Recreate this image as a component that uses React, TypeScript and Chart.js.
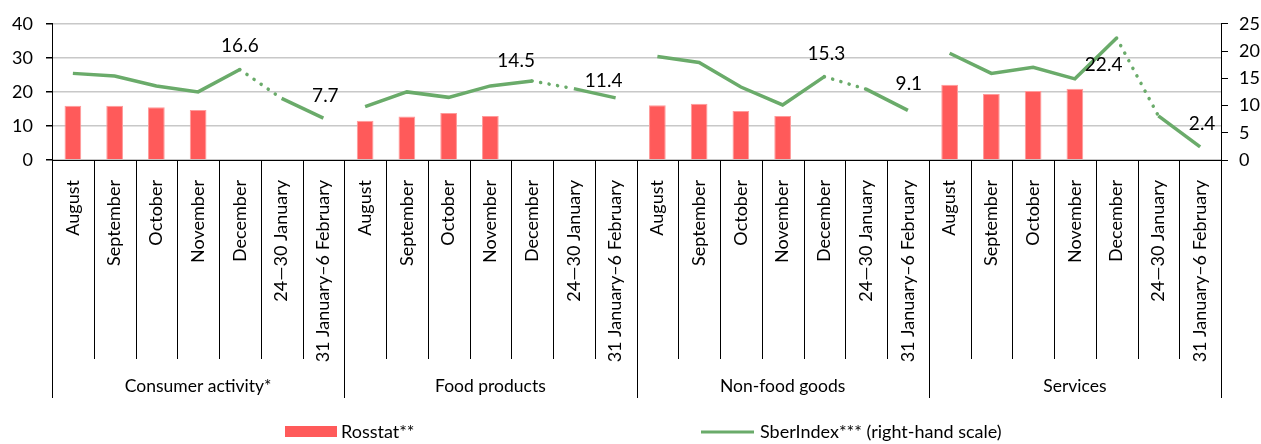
import React, { useEffect, useRef } from 'react';
import { Chart, registerables } from 'chart.js';

Chart.register(...registerables);

const groups = ['Consumer activity*', 'Food products', 'Non-food goods', 'Services'];
const periods = ['August', 'September', 'October', 'November', 'December', '24—30 January', '31 January–6 February'];

const rosstatConsumer = [15.9, 15.9, 15.5, 14.7, null, null, null];
const rosstatFood = [11.5, 12.8, 13.8, 12.9, null, null, null];
const rosstatNonFood = [16.1, 16.5, 14.4, 12.9, null, null, null];
const rosstatServices = [22.1, 19.4, 20.3, 20.9, null, null, null];

const sberConsumer = [15.9, 15.4, 13.6, 12.5, 16.6, 11.3, 7.7];
const sberFood = [9.8, 12.5, 11.5, 13.6, 14.5, 13.1, 11.4];
const sberNonFood = [19.0, 17.9, 13.4, 10.1, 15.3, 13.0, 9.1];
const sberServices = [19.6, 15.9, 17.0, 14.9, 22.4, 8.1, 2.4];

const leftTicks = [0, 10, 20, 30, 40];
const rightTicks = [0, 5, 10, 15, 20, 25];

// indices (within group) whose values are labelled
const labelledPeriods = [4, 6];
// label offsets from point (style only), per group, per labelled period
const labelOffsets = [
  [[0, -24], [2, -22]],
  [[-16, -20], [-12, -17]],
  [[2, -23], [1, -27]],
  [[-13, 27], [2, -23]],
];

const BAR = '#ff5a5a';
const LINE = '#6aab6a';
const FONT = 'Lato';

const labels = groups.flatMap(() => periods);
const rosstat = [...rosstatConsumer, ...rosstatFood, ...rosstatNonFood, ...rosstatServices];
const sber = [...sberConsumer, ...sberFood, ...sberNonFood, ...sberServices];

const decorPlugin = {
  id: 'decor',
  afterDraw(chart: any) {
    const ctx = chart.ctx;
    const area = chart.chartArea;
    const n = labels.length;
    const w = (area.right - area.left) / n;
    ctx.save();
    ctx.strokeStyle = '#000';
    ctx.lineWidth = 1;
    for (let i = 0; i <= n; i++) {
      const x = Math.round(area.left + i * w) + 0.5;
      const isGroup = i % periods.length === 0;
      ctx.beginPath();
      ctx.moveTo(x, area.bottom);
      ctx.lineTo(x, isGroup ? 398 : 359);
      ctx.stroke();
    }
    ctx.fillStyle = '#000';
    ctx.font = `17.5px ${FONT}`;
    ctx.textAlign = 'center';
    ctx.textBaseline = 'middle';
    groups.forEach((g, gi) => {
      const cx = area.left + (gi * periods.length + periods.length / 2) * w;
      ctx.fillText(g, cx, 386);
    });

    // data labels
    const meta = chart.getDatasetMeta(1);
    ctx.font = `19px ${FONT}`;
    groups.forEach((g, gi) => {
      labelledPeriods.forEach((p, li) => {
        const idx = gi * periods.length + p;
        const el = meta.data[idx];
        const v = sber[idx];
        if (!el || v == null) return;
        const [dx, dy] = labelOffsets[gi][li];
        ctx.fillText(v.toFixed(1), el.x + dx, el.y + dy);
      });
    });

    // legend
    ctx.textAlign = 'left';
    ctx.font = `18px ${FONT}`;
    ctx.fillStyle = BAR;
    ctx.fillRect(285, 426, 52, 11);
    ctx.fillStyle = '#000';
    ctx.fillText('Rosstat**', 341, 432);
    ctx.strokeStyle = LINE;
    ctx.lineWidth = 3;
    ctx.beginPath();
    ctx.moveTo(701, 432);
    ctx.lineTo(754, 432);
    ctx.stroke();
    ctx.fillText('SberIndex*** (right-hand scale)', 760, 432);
    ctx.restore();
  },
};

export default function App() {
  const ref = useRef<HTMLCanvasElement | null>(null);
  useEffect(() => {
    document.body.style.margin = '0';
    const canvas = ref.current;
    if (!canvas) return;
    const chart = new Chart(canvas, {
      type: 'bar',
      data: {
        labels,
        datasets: [
          {
            type: 'bar',
            label: 'Rosstat**',
            data: rosstat,
            backgroundColor: BAR,
            borderColor: '#ff9a9a',
            borderWidth: 1,
            barPercentage: 0.8,
            categoryPercentage: 0.5,
            yAxisID: 'y',
            order: 2,
          },
          {
            type: 'line',
            label: 'SberIndex*** (right-hand scale)',
            data: sber,
            borderColor: LINE,
            borderWidth: 3.5,
            pointRadius: 0,
            tension: 0,
            yAxisID: 'y1',
            order: 1,
            segment: {
              borderColor: (c: any) => (c.p0DataIndex % periods.length === periods.length - 1 ? 'rgba(0,0,0,0)' : undefined),
              borderDash: (c: any) => (c.p0DataIndex % periods.length === 4 ? [0.1, 8.5] : undefined),
              borderCapStyle: (c: any) => (c.p0DataIndex % periods.length === 4 ? 'round' : undefined),
            },
          } as any,
        ],
      },
      options: {
        animation: false,
        responsive: true,
        maintainAspectRatio: false,
        layout: { padding: { top: 23, left: 0, right: 0, bottom: 0 } },
        plugins: {
          legend: { display: false },
          tooltip: { enabled: false },
        },
        scales: {
          x: {
            type: 'category',
            grid: { display: false },
            border: { display: true, color: '#000' },
            ticks: {
              autoSkip: false,
              maxRotation: 90,
              minRotation: 90,
              padding: 12,
              color: '#000',
              font: { family: FONT, size: 18 },
            },
            afterFit: (s: any) => {
              s.height = 284;
            },
          },
          y: {
            position: 'left',
            min: 0,
            max: 40,
            afterBuildTicks: (s: any) => {
              s.ticks = leftTicks.map((v) => ({ value: v }));
            },
            grid: { color: '#c8c8c8', lineWidth: 1.5, tickLength: 6, tickColor: '#000' },
            border: { display: true, color: '#000' },
            ticks: {
              padding: 13,
              color: '#000',
              font: { family: FONT, size: 18 },
            },
            afterFit: (s: any) => {
              s.width = 52;
            },
          },
          y1: {
            position: 'right',
            min: 0,
            max: 25,
            afterBuildTicks: (s: any) => {
              s.ticks = rightTicks.map((v) => ({ value: v }));
            },
            grid: { drawOnChartArea: false, tickLength: 7, tickColor: '#000' },
            border: { display: true, color: '#000' },
            ticks: {
              padding: 11,
              color: '#000',
              font: { family: FONT, size: 18 },
            },
            afterFit: (s: any) => {
              s.width = 40;
            },
          },
        },
      },
      plugins: [decorPlugin],
    });
    return () => chart.destroy();
  }, []);
  return (
    <div style={{ width: 1261, height: 444, position: 'relative' }}>
      <canvas ref={ref} />
    </div>
  );
}
